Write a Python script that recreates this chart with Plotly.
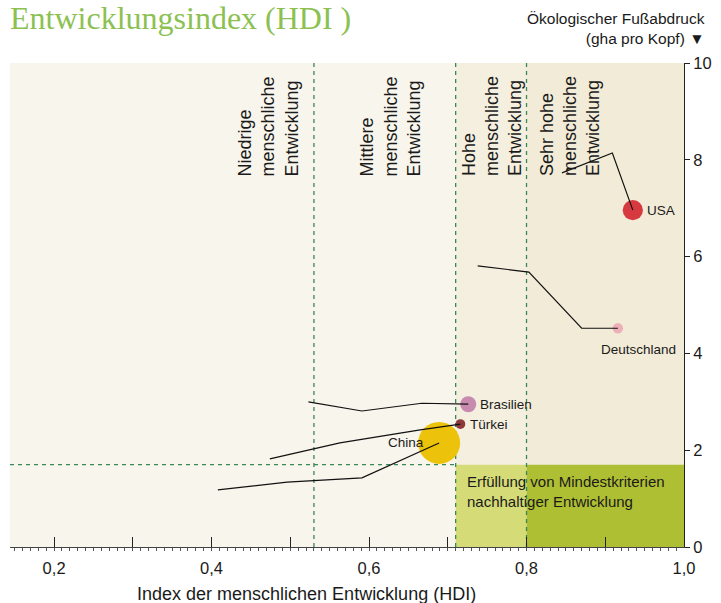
import plotly.graph_objects as go

# ---- data ----
countries = ["China", "Türkei", "Brasilien", "Deutschland", "USA"]
population = [1340, 73, 195, 82, 310]  # millions (bubble area)
hdi_now = [0.689, 0.716, 0.726, 0.916, 0.935]
footprint_now = [2.15, 2.54, 2.95, 4.52, 6.96]
colors = ["#ecc30a", "#8e3a3a", "#c98ab0", "#eeb0b8", "#d63a40"]

# trajectories (older -> newer, ending at current bubble)
traj_hdi = {
    "China": [0.408, 0.496, 0.591, 0.689],
    "Türkei": [0.474, 0.563, 0.665, 0.716],
    "Brasilien": [0.523, 0.591, 0.667, 0.726],
    "Deutschland": [0.738, 0.803, 0.870, 0.916],
    "USA": [0.845, 0.909, 0.935],
}
traj_fp = {
    "China": [1.18, 1.34, 1.43, 2.15],
    "Türkei": [1.82, 2.15, 2.42, 2.54],
    "Brasilien": [3.00, 2.81, 2.97, 2.95],
    "Deutschland": [5.81, 5.68, 4.52, 4.52],
    "USA": [7.73, 8.14, 6.96],
}

thresholds = [0.53, 0.71, 0.80]
biocapacity = 1.7
zone_labels = [
    "Niedrige<br>menschliche<br>Entwicklung",
    "Mittlere<br>menschliche<br>Entwicklung",
    "Hohe<br>menschliche<br>Entwicklung",
    "Sehr hohe<br>menschliche<br>Entwicklung",
]
zone_label_x = [0.472, 0.627, 0.756, 0.855]
x_tickvals = [0.2, 0.3, 0.4, 0.5, 0.6, 0.7, 0.8, 0.9, 1.0]
x_ticktext = ["0,2", "", "0,4", "", "0,6", "", "0,8", "", "1,0"]
y_tickvals = [0, 2, 4, 6, 8, 10]

XMIN, XMAX, YMIN, YMAX = 0.144, 1.0, 0, 10
FONT = "Liberation Sans, Arial, sans-serif"

# figure geometry (page body margin removed via post_script)
W, H = 721, 603
ML, MR, MT, MB = 10, 37, 63, 56
pw, ph = W - ML - MR, H - MT - MB


def scr(X, Y):
    """screen pixel -> paper coords"""
    return (X - ML) / pw, (H - Y - MB) / ph


fig = go.Figure()

# bubbles
max_d = 42
sizeref = 2 * max(population) / (max_d ** 2)
fig.add_trace(go.Scatter(
    x=hdi_now, y=footprint_now, mode="markers",
    marker=dict(size=population, sizemode="area", sizeref=sizeref,
                color=colors, line=dict(width=0), opacity=1),
    hoverinfo="skip", showlegend=False, cliponaxis=False,
))
# trajectories
for c in countries:
    fig.add_trace(go.Scatter(
        x=traj_hdi[c], y=traj_fp[c], mode="lines",
        line=dict(color="#111111", width=1.2),
        hoverinfo="skip", showlegend=False,
    ))

shapes = []
shapes.append(dict(type="rect", xref="x", yref="y", x0=thresholds[1], x1=thresholds[2], y0=YMIN, y1=YMAX,
                   fillcolor="#f4efdf", line=dict(width=0), layer="below"))
shapes.append(dict(type="rect", xref="x", yref="y", x0=thresholds[2], x1=XMAX, y0=YMIN, y1=YMAX,
                   fillcolor="#f2ebd7", line=dict(width=0), layer="below"))
shapes.append(dict(type="rect", xref="x", yref="y", x0=thresholds[1], x1=thresholds[2], y0=YMIN, y1=biocapacity,
                   fillcolor="#d5dc77", line=dict(width=0), layer="below"))
shapes.append(dict(type="rect", xref="x", yref="y", x0=thresholds[2], x1=XMAX, y0=YMIN, y1=biocapacity,
                   fillcolor="#afbf34", line=dict(width=0), layer="below"))
for t in thresholds:
    shapes.append(dict(type="line", xref="x", yref="y", x0=t, x1=t, y0=YMIN, y1=YMAX,
                       line=dict(color="#3a8758", width=1.3, dash="4px,4px"), layer="below"))
shapes.append(dict(type="line", xref="x", yref="y", x0=XMIN, x1=thresholds[1], y0=biocapacity, y1=biocapacity,
                   line=dict(color="#3a8758", width=1.3, dash="4px,4px"), layer="below"))

annotations = []
for lab, xv in zip(zone_labels, zone_label_x):
    annotations.append(dict(x=xv, y=7.62, xref="x", yref="y", text=lab, showarrow=False,
                            textangle=-90, xanchor="center", yanchor="bottom", align="left",
                            font=dict(family=FONT, size=18, color="#1a1a1a")))
labels = [
    dict(x=0.950, y=6.96, text="USA", xanchor="left", yanchor="middle"),
    dict(x=0.942, y=4.09, text="Deutschland", xanchor="center", yanchor="middle"),
    dict(x=0.738, y=2.95, text="Brasilien", xanchor="left", yanchor="middle"),
    dict(x=0.726, y=2.54, text="Türkei", xanchor="left", yanchor="middle"),
    dict(x=0.621, y=2.15, text="China", xanchor="left", yanchor="middle"),
]
for a in labels:
    a.update(xref="x", yref="y", showarrow=False, font=dict(family=FONT, size=13.5, color="#1a1a1a"))
annotations += labels

annotations.append(dict(x=0.722, y=1.57, xref="x", yref="y", xanchor="left", yanchor="top", align="left",
                        text="Erfüllung von Mindestkriterien<br>nachhaltiger Entwicklung", showarrow=False,
                        font=dict(family=FONT, size=15, color="#1a1a1a")))

tx, ty = scr(8, 38)
annotations.append(dict(x=tx, y=ty, xref="paper", yref="paper", text="Entwicklungsindex (HDI )",
                        showarrow=False, xanchor="left", yanchor="bottom",
                        font=dict(family="Liberation Serif, serif", size=32, color="#8cc152")))
hx, hy = scr(707, 28.5)
annotations.append(dict(x=hx, y=hy, xref="paper", yref="paper",
                        text="Ökologischer Fußabdruck<br>(gha pro Kopf) ▼", showarrow=False,
                        xanchor="right", yanchor="middle", align="right",
                        font=dict(family=FONT, size=15.5, color="#1a1a1a")))
bx, by = scr(306, 594)
annotations.append(dict(x=bx, y=by, xref="paper", yref="paper",
                        text="Index der menschlichen Entwicklung (HDI)", showarrow=False,
                        xanchor="center", yanchor="middle",
                        font=dict(family=FONT, size=18, color="#1a1a1a")))

fig.update_layout(
    width=W, height=H,
    margin=dict(l=ML, r=MR, t=MT, b=MB, autoexpand=False),
    paper_bgcolor="white", plot_bgcolor="#f8f5ec",
    shapes=shapes, annotations=annotations,
    font=dict(family=FONT, color="#1a1a1a"),
    hovermode=False,
    xaxis=dict(range=[XMIN, XMAX], tickvals=x_tickvals, ticktext=x_ticktext,
               ticks="inside", ticklen=10, tickcolor="#222", tickwidth=1,
               showline=True, linecolor="#444", linewidth=1, showgrid=False, zeroline=False,
               tickfont=dict(size=16.5, family=FONT), ticklabelstandoff=6,
               minor=dict(dtick=0.01, ticks="outside", ticklen=3, tickcolor="#555", showgrid=False)),
    yaxis=dict(range=[YMIN, YMAX], side="right", tickvals=y_tickvals,
               ticks="outside", ticklen=5, tickcolor="#222",
               showline=True, linecolor="#222", linewidth=1, showgrid=False, zeroline=False,
               tickfont=dict(size=16.5, family=FONT)),
)

fig.write_html("out.html",
               config={"displayModeBar": False},
               post_script="document.body.style.margin='0';document.body.style.overflow='hidden';")
